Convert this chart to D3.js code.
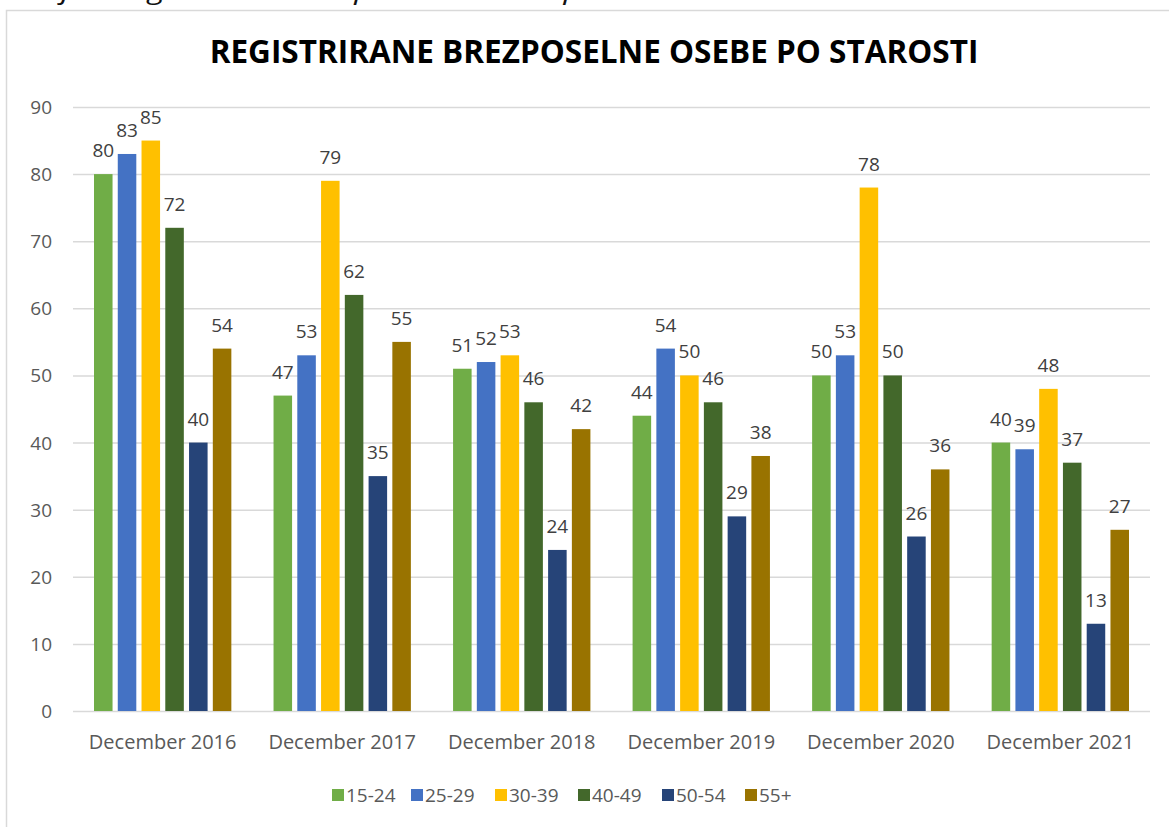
<!DOCTYPE html>
<html><head><meta charset="utf-8">
<script src="https://cdn.jsdelivr.net/npm/d3@7"></script>
<style>body{margin:0;background:#fff}svg{display:block}</style>
</head><body>
<svg id="c" width="1169" height="827"></svg>
<script>
(function(){
const categories = ["December 2016","December 2017","December 2018","December 2019","December 2020","December 2021"];
const seriesNames = ["15-24","25-29","30-39","40-49","50-54","55+"];
const s1524 = [80,47,51,44,50,40];
const s2529 = [83,53,52,54,53,39];
const s3039 = [85,79,53,50,78,48];
const s4049 = [72,62,46,46,50,37];
const s5054 = [40,35,24,29,26,13];
const s55 = [54,55,42,38,36,27];
const yTicks = [0,10,20,30,40,50,60,70,80,90];
const colors = ["#70AD47","#4472C4","#FFC000","#43682B","#264478","#997300"];
const title = "REGISTRIRANE BREZPOSELNE OSEBE PO STAROSTI";
const caption = "Graf 1: Registrirane brezposelne osebe po starosti";

const series = [s1524,s2529,s3039,s4049,s5054,s55];
const svg = d3.select("#c");
const font = "'Open Sans', 'Noto Sans', sans-serif";

svg.append("text").attr("x",8).attr("y",-1).attr("font-family",font).attr("font-style","italic")
  .attr("font-size",26).attr("fill","#111").attr("textLength",707).attr("lengthAdjust","spacingAndGlyphs").text(caption);

svg.append("rect").attr("x",6.5).attr("y",10.5).attr("width",1200).attr("height",900)
  .attr("fill","#fff").attr("stroke","#d9d9d9").attr("stroke-width",1.5);

svg.append("text").attr("x",594).attr("y",63).attr("text-anchor","middle")
  .attr("font-family",font).attr("font-weight","bold").attr("font-size",31.5).attr("fill","#000").text(title);

const pl = 73, pr = 1150, pt = 107, pb = 711;
const y = d3.scaleLinear().domain([0,90]).range([pb, pt]);
const x0 = d3.scaleBand().domain(categories).range([pl,pr]).paddingInner(0.235).paddingOuter(0.117);
const x1 = d3.scaleBand().domain(seriesNames).range([0,x0.bandwidth()]).paddingInner(0.22);

const g = svg.append("g");
g.selectAll("line.grid").data(yTicks).join("line")
  .attr("x1",pl).attr("x2",pr).attr("y1",d=>y(d)+0.5).attr("y2",d=>y(d)+0.5)
  .attr("stroke","#d9d9d9").attr("stroke-width",1.5);

g.selectAll("text.ytick").data(yTicks).join("text")
  .attr("x",52).attr("y",d=>y(d)+7).attr("text-anchor","end")
  .attr("font-family",font).attr("font-size",19).attr("fill","#595959").text(d=>d);

categories.forEach((c,ci)=>{
  const gg = g.append("g").attr("transform",`translate(${x0(c)},0)`);
  seriesNames.forEach((s,si)=>{
    const v = series[si][ci];
    gg.append("rect").attr("x",x1(s)).attr("y",y(v)).attr("width",x1.bandwidth()).attr("height",y(0)-y(v))
      .attr("fill",colors[si]);
    gg.append("text").attr("x",x1(s)+x1.bandwidth()/2).attr("y",y(v)-17).attr("text-anchor","middle")
      .attr("font-family",font).attr("font-size",19).attr("fill","#404040").text(v);
  });
  svg.append("text").attr("x",x0(c)+x0.bandwidth()/2).attr("y",749).attr("text-anchor","middle")
    .attr("font-family",font).attr("font-size",20).attr("fill","#595959").text(c);
});

const lg = svg.append("g");
const legX = [332,411,495,578,662,745];
seriesNames.forEach((s,i)=>{
  lg.append("rect").attr("x",legX[i]).attr("y",789).attr("width",12).attr("height",12).attr("fill",colors[i]);
  lg.append("text").attr("x",legX[i]+14).attr("y",802).attr("font-family",font).attr("font-size",19)
    .attr("fill","#595959").text(s);
});
})();
</script>
</body></html>
